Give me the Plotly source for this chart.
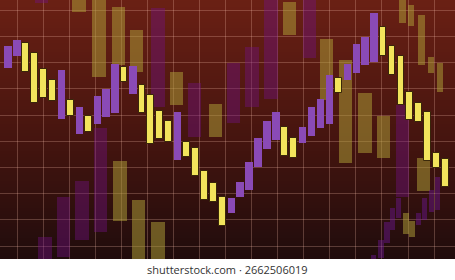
import plotly.graph_objects as go

# ---------------- data ----------------
# Foreground candles, one per session (index 0..49)
fg_open = [191, 203, 216, 206, 190, 179, 140, 159, 125, 143,
           135, 142, 146, 192, 165, 174, 164, 148, 138, 99,
           117, 111, 88, 76, 62, 46, 62, 69, 92, 110,
           119, 132, 121, 116, 123, 131, 135, 181, 179, 186,
           194, 197, 232, 213, 203, 167, 156, 147, 106, 100]
fg_close = [213, 219, 187, 156, 161, 158, 189, 143, 152, 127,
            163, 170, 195, 177, 193, 146, 115, 120, 117, 147,
            102, 83, 59, 57, 33, 61, 77, 97, 121, 138,
            147, 103, 101, 132, 152, 160, 184, 166, 195, 215,
            222, 246, 203, 184, 154, 139, 137, 98, 91, 72]

# Faded background layer (wide candles): session position, low, high, kind
mid_x = [3.75, 7.95, 10.19, 12.37, 14.39, 16.80, 18.87, 20.88, 23.24, 25.25,
         27.32, 29.45, 31.52, 33.76, 35.67, 37.79, 39.98, 42.05, 44.18, 46.53,
         4.14, 6.21, 8.29, 10.36, 12.54, 14.61, 16.80]
mid_low = [256, 247, 182, 194, 187, 152, 154, 122, 122, 136,
           152, 160, 224, 201, 159, 96, 106, 101, 62, 68,
           -5, 2, 19, 27, 38, -5, -5]
mid_high = [265, 265, 265, 252, 229, 251, 187, 176, 155, 196,
            212, 265, 257, 265, 220, 199, 166, 143, 154, 101,
            22, 62, 78, 131, 98, 59, 37]
mid_kind = ["up", "down", "down", "down", "down", "up", "down", "up", "down", "up",
            "up", "up", "down", "up", "down", "down", "down", "down", "up", "down",
            "up", "up", "up", "up", "down", "down", "down"]

# Faint narrow layer (small candles)
thin_x = [44.18, 45.13, 46.30, 47.37, 48.38,
          40.93, 41.77, 42.44, 43.06, 43.73, 44.57, 45.24, 45.97, 46.64, 47.42, 48.10]
thin_low = [236, 233, 194, 186, 167,
            -5, 1, 16, 29, 41, 25, 22, 34, 39, 47, 49]
thin_high = [265, 254, 244, 202, 196,
             4, 19, 37, 51, 61, 46, 38, 46, 61, 69, 82]
thin_kind = ["down", "down", "down", "down", "down",
             "up", "up", "up", "up", "up", "down", "down", "up", "up", "up", "up"]

grid_x0, grid_dx = 1.008, 2.919
grid_y0, grid_dy = 13, 26.2
caption = "shutterstock.com · 2662506019"

# ---------------- styles ----------------
YEL = "rgb(242,228,92)"
PUR = "rgb(138,74,182)"
OLIVE_F = "rgba(175,160,55,0.52)"
PURP_F = "rgba(115,18,135,0.40)"

fig = go.Figure()


def add_bars(xs, lows, highs, color, width, line_w=0, line_c="rgba(0,0,0,0)"):
    fig.add_trace(go.Bar(
        x=xs, base=lows, y=[h - l for l, h in zip(lows, highs)],
        width=width, marker=dict(color=color, line=dict(width=line_w, color=line_c)),
        hoverinfo="skip", showlegend=False))


def split(xs, lows, highs, kinds, k):
    sel = [i for i, kk in enumerate(kinds) if kk == k]
    return [xs[i] for i in sel], [lows[i] for i in sel], [highs[i] for i in sel]


# faded wide layer
for k, c in (("up", PURP_F), ("down", OLIVE_F)):
    xs, lo, hi = split(mid_x, mid_low, mid_high, mid_kind, k)
    add_bars(xs, lo, hi, c, 1.5)
# faint narrow layer
for k, c in (("up", "rgba(115,25,160,0.42)"), ("down", OLIVE_F)):
    xs, lo, hi = split(thin_x, thin_low, thin_high, thin_kind, k)
    add_bars(xs, lo, hi, c, 0.72 if k == "down" else 0.58)

# foreground
idx = list(range(len(fg_open)))
lows = [min(o, c) for o, c in zip(fg_open, fg_close)]
highs = [max(o, c) for o, c in zip(fg_open, fg_close)]
kinds = ["up" if c > o else "down" for o, c in zip(fg_open, fg_close)]
xs, lo, hi = split(idx, lows, highs, kinds, "up")
add_bars(xs, lo, hi, PUR, 0.84)
xs, lo, hi = split(idx, lows, highs, kinds, "down")
add_bars(xs, lo, hi, YEL, 0.76, 1, "rgba(45,28,6,0.9)")

# background gradient stripes
stops = [(0.0, (32, 12, 12)), (0.5, (72, 21, 15)), (1.0, (106, 32, 20))]


def col(f):
    for (f0, c0), (f1, c1) in zip(stops[:-1], stops[1:]):
        if f <= f1:
            t = (f - f0) / (f1 - f0)
            return "rgb(%d,%d,%d)" % tuple(round(a + (b - a) * t) for a, b in zip(c0, c1))
    return "rgb(%d,%d,%d)" % stops[-1][1]


shapes = []
step = 3
v = 0
while v < 259:
    shapes.append(dict(type="rect", xref="paper", x0=0, x1=1, yref="y", y0=v, y1=min(v + step + 0.5, 259),
                       fillcolor=col((v + step / 2) / 259), line=dict(width=0), layer="below"))
    v += step

GRID = "rgba(255,200,180,0.25)"
fig.update_layout(
    width=455, height=280, margin=dict(l=0, r=0, t=0, b=0),
    paper_bgcolor="white", plot_bgcolor="rgb(60,18,14)",
    barmode="overlay", bargap=0, showlegend=False,
    shapes=shapes,
    xaxis=dict(range=[-0.896, 50.056], showgrid=True, gridcolor=GRID, gridwidth=1,
               tick0=grid_x0, dtick=grid_dx, showticklabels=False, ticks="",
               zeroline=False, showline=False, fixedrange=True),
    yaxis=dict(range=[0, 259], domain=[21 / 280, 1], showgrid=True, gridcolor=GRID, gridwidth=1,
               tick0=grid_y0, dtick=grid_dy, showticklabels=False, ticks="",
               zeroline=False, showline=False, fixedrange=True),
    annotations=[dict(text=caption, xref="paper", yref="paper", x=0.5, y=10.5 / 280,
                      xanchor="center", yanchor="middle", showarrow=False,
                      font=dict(family="Open Sans", size=11, color="#333333"))],
)

fig.write_html("out.html", config={"displayModeBar": False})
